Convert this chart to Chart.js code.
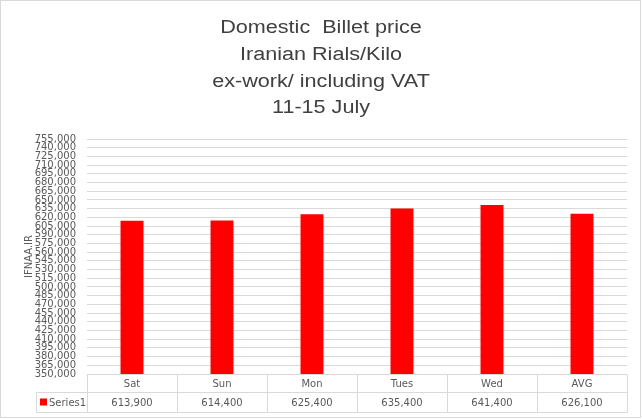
<!DOCTYPE html>
<html>
<head>
<meta charset="utf-8">
<script src="https://cdn.jsdelivr.net/npm/chart.js@4"></script>
<style>
  html, body { margin: 0; padding: 0; background: #fff; }
  #wrap { width: 642px; height: 419px; position: relative; }
</style>
</head>
<body>
<div id="wrap"><canvas id="billetChart"></canvas></div>
<script>
// --- chart data ---
const TITLE_LINES = ["Domestic  Billet price", "Iranian Rials/Kilo", "ex-work/ including VAT", "11-15 July"];
const DAYS = ["Sat", "Sun", "Mon", "Tues", "Wed", "AVG"];
const SERIES_NAME = "Series1";
const PRICES = [613900, 614400, 625400, 635400, 641400, 626100];
const Y_MIN = 350000;
const Y_MAX = 755000;
const Y_STEP = 15000;
const AXIS_TITLE = "IFNAA.IR";

const GRID = "#d9d9d9";
const TEXT = "#595959";
const BAR = "#ff0000";
const fmt = (v) => Number(v).toLocaleString("en-US");

// white background + thin outer frame
const frame = {
  id: "frame",
  beforeDraw(chart) {
    const { ctx, width, height } = chart;
    ctx.save();
    ctx.fillStyle = "#fff";
    ctx.fillRect(0, 0, width, height);
    ctx.strokeStyle = GRID;
    ctx.lineWidth = 1;
    ctx.strokeRect(0.5, 0.5, width - 2, height - 2);
    ctx.restore();
  },
};

// four-line title, slightly wide like the original
const wideTitle = {
  id: "wideTitle",
  afterDraw(chart) {
    const { ctx, width } = chart;
    const baselines = [33, 60, 87, 113];
    ctx.save();
    ctx.fillStyle = "#404040";
    ctx.font = '18px "Liberation Sans", Arial, sans-serif';
    ctx.textAlign = "center";
    ctx.textBaseline = "alphabetic";
    TITLE_LINES.forEach((line, i) => {
      ctx.save();
      ctx.translate(width / 2, baselines[i]);
      ctx.scale(1.2, 1);
      ctx.fillText(line, 0, 0);
      ctx.restore();
    });
    ctx.restore();
  },
};

// data table under the plot, aligned with the category scale
const dataTable = {
  id: "dataTable",
  afterDraw(chart) {
    const { ctx, chartArea: a, scales: { x } } = chart;
    const top = Math.round(a.bottom) + 0.5;
    const mid = top + 18;
    const bot = mid + 20;
    const legendLeft = 36.5;
    const cellW = (a.right - a.left) / DAYS.length;

    ctx.save();
    ctx.strokeStyle = GRID;
    ctx.lineWidth = 1;
    ctx.beginPath();
    ctx.moveTo(a.left, top); ctx.lineTo(a.right, top);
    ctx.moveTo(legendLeft, mid); ctx.lineTo(a.right, mid);
    ctx.moveTo(legendLeft, bot); ctx.lineTo(a.right, bot);
    ctx.moveTo(legendLeft, mid); ctx.lineTo(legendLeft, bot);
    for (let i = 0; i <= DAYS.length; i++) {
      const xx = Math.round(a.left + i * cellW) + 0.5;
      ctx.moveTo(xx, top); ctx.lineTo(xx, bot);
    }
    ctx.stroke();

    ctx.fillStyle = TEXT;
    ctx.font = '10px "DejaVu Sans", sans-serif';
    ctx.textAlign = "center";
    ctx.textBaseline = "middle";
    DAYS.forEach((d, i) => {
      const cx = x.getPixelForValue(i);
      ctx.fillText(d, cx, (top + mid) / 2 + 1);
      ctx.fillText(fmt(PRICES[i]), cx, (mid + bot) / 2 + 1);
    });

    ctx.fillStyle = BAR;
    ctx.fillRect(40, mid + 6, 7, 7);
    ctx.fillStyle = TEXT;
    ctx.textAlign = "left";
    ctx.fillText(SERIES_NAME, 49, (mid + bot) / 2 + 1);
    ctx.restore();
  },
};

new Chart(document.getElementById("billetChart"), {
  type: "bar",
  data: {
    labels: DAYS,
    datasets: [{
      label: SERIES_NAME,
      data: PRICES,
      backgroundColor: BAR,
      categoryPercentage: 1,
      barPercentage: 0.255,
    }],
  },
  options: {
    responsive: true,
    maintainAspectRatio: false,
    animation: false,
    layout: { padding: { top: 139, left: 0, right: 15, bottom: 45 } },
    plugins: {
      legend: { display: false },
      title: { display: false },
      tooltip: { enabled: false },
    },
    scales: {
      x: { display: false },
      y: {
        min: Y_MIN,
        max: Y_MAX,
        afterFit: (scale) => { scale.width = 87; },
        border: { display: false },
        grid: { color: GRID, drawTicks: false },
        ticks: {
          stepSize: Y_STEP,
          autoSkip: false,
          padding: 11,
          color: TEXT,
          font: { family: '"DejaVu Sans", sans-serif', size: 10 },
          callback: (v) => fmt(v),
        },
        title: {
          display: true,
          text: AXIS_TITLE,
          color: TEXT,
          font: { family: '"DejaVu Sans", sans-serif', size: 10 },
          padding: { top: 23, bottom: 0 },
        },
      },
    },
  },
  plugins: [frame, wideTitle, dataTable],
});
</script>
</body>
</html>
